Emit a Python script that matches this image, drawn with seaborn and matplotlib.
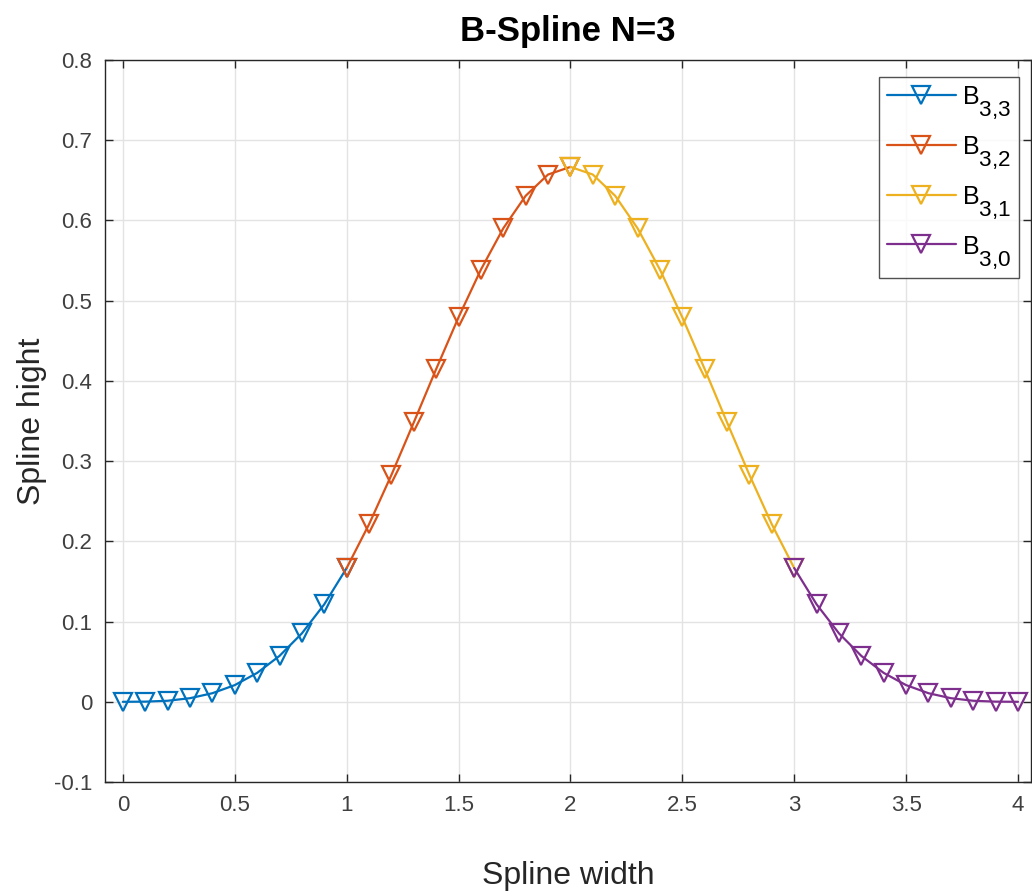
import matplotlib
matplotlib.use("Agg")
import matplotlib.pyplot as plt
import matplotlib._mathtext as _mt
import seaborn as sns
import pandas as pd

# ---- data ----
x_b33 = [0.0, 0.1, 0.2, 0.3, 0.4, 0.5, 0.6, 0.7, 0.8, 0.9, 1.0]
y_b33 = [0.000, 0.0002, 0.0013, 0.0045, 0.0107, 0.0208, 0.036, 0.0572, 0.0853, 0.1215, 0.1667]
x_b32 = [1.0, 1.1, 1.2, 1.3, 1.4, 1.5, 1.6, 1.7, 1.8, 1.9, 2.0]
y_b32 = [0.1667, 0.2212, 0.2827, 0.3482, 0.4147, 0.4792, 0.5387, 0.5902, 0.6307, 0.6572, 0.6667]
x_b31 = [2.0, 2.1, 2.2, 2.3, 2.4, 2.5, 2.6, 2.7, 2.8, 2.9, 3.0]
y_b31 = [0.6667, 0.6572, 0.6307, 0.5902, 0.5387, 0.4792, 0.4147, 0.3482, 0.2827, 0.2212, 0.1667]
x_b30 = [3.0, 3.1, 3.2, 3.3, 3.4, 3.5, 3.6, 3.7, 3.8, 3.9, 4.0]
y_b30 = [0.1667, 0.1215, 0.0853, 0.0572, 0.036, 0.0208, 0.0107, 0.0045, 0.0013, 0.0002, 0.000]
labels = [r"B$_{3{,}3}$", r"B$_{3{,}2}$", r"B$_{3{,}1}$", r"B$_{3{,}0}$"]
colors = ["#0072BD", "#D95319", "#EDB120", "#7E2F8E"]
x_ticks = [0, 0.5, 1, 1.5, 2, 2.5, 3, 3.5, 4]
x_ticklabels = ["0", "0.5", "1", "1.5", "2", "2.5", "3", "3.5", "4"]
y_ticks = [-0.1, 0, 0.1, 0.2, 0.3, 0.4, 0.5, 0.6, 0.7, 0.8]
y_ticklabels = ["-0.1", "0", "0.1", "0.2", "0.3", "0.4", "0.5", "0.6", "0.7", "0.8"]

# larger, lower subscripts, like MATLAB's TeX interpreter
_mt.SHRINK_FACTOR = 0.9
_mt.FontConstantsBase.sub1 = 0.9
_mt.FontConstantsBase.sub2 = 0.9
_mt.FontConstantsBase.subdrop = 0.7

sns.set_theme(style="white")
plt.rcParams["font.family"] = ["Liberation Sans", "DejaVu Sans"]
plt.rcParams["mathtext.fontset"] = "custom"
plt.rcParams["mathtext.rm"] = "Liberation Sans"
plt.rcParams["mathtext.it"] = "Liberation Sans"

fig = plt.figure(figsize=(10.32, 8.91), dpi=100)
ax = fig.add_axes([0.1017, 0.1223, 0.8973, 0.8104])

series = [(x_b33, y_b33), (x_b32, y_b32), (x_b31, y_b31), (x_b30, y_b30)]
for (xs, ys), lab, c in zip(series, labels, colors):
    df = pd.DataFrame({"x": xs, "y": ys})
    sns.lineplot(data=df, x="x", y="y", ax=ax, color=c, linewidth=1.6,
                 marker="v", markersize=12.5, markerfacecolor="none",
                 markeredgecolor=c, markeredgewidth=1.6, label=lab,
                 estimator=None, sort=False)

ax.set_xlim(-0.08, 4.058)
ax.set_ylim(-0.1, 0.8)
ax.set_xticks(x_ticks)
ax.set_xticklabels(x_ticklabels)
ax.set_yticks(y_ticks)
ax.set_yticklabels(y_ticklabels)
ax.grid(True, color="#e3e3e3", linewidth=1.0)
ax.set_axisbelow(True)
for s in ax.spines.values():
    s.set_color("#262626")
    s.set_linewidth(1.0)
    s.set_visible(True)
ax.tick_params(direction="in", length=6, width=1, color="#262626",
               labelsize=16, labelcolor="#404040", top=True, right=True,
               bottom=True, left=True, pad=9)

ax.set_title("B-Spline N=3", fontsize=25, fontweight="bold", color="#000000", pad=14)
ax.set_xlabel("Spline width", fontsize=23, color="#262626", labelpad=33)
ax.set_ylabel("Spline hight", fontsize=23, color="#262626", labelpad=5)

leg = ax.legend(loc="upper right", bbox_to_anchor=(0.987, 0.9765),
                fontsize=18, frameon=True, fancybox=False,
                edgecolor="#262626", borderpad=0.3, handlelength=2.76,
                handletextpad=0.24, labelspacing=0.51, borderaxespad=0.0)
leg.get_frame().set_linewidth(1.0)
for t in leg.get_texts():
    t.set_color("#000000")

fig.savefig("out.png", dpi=100)
